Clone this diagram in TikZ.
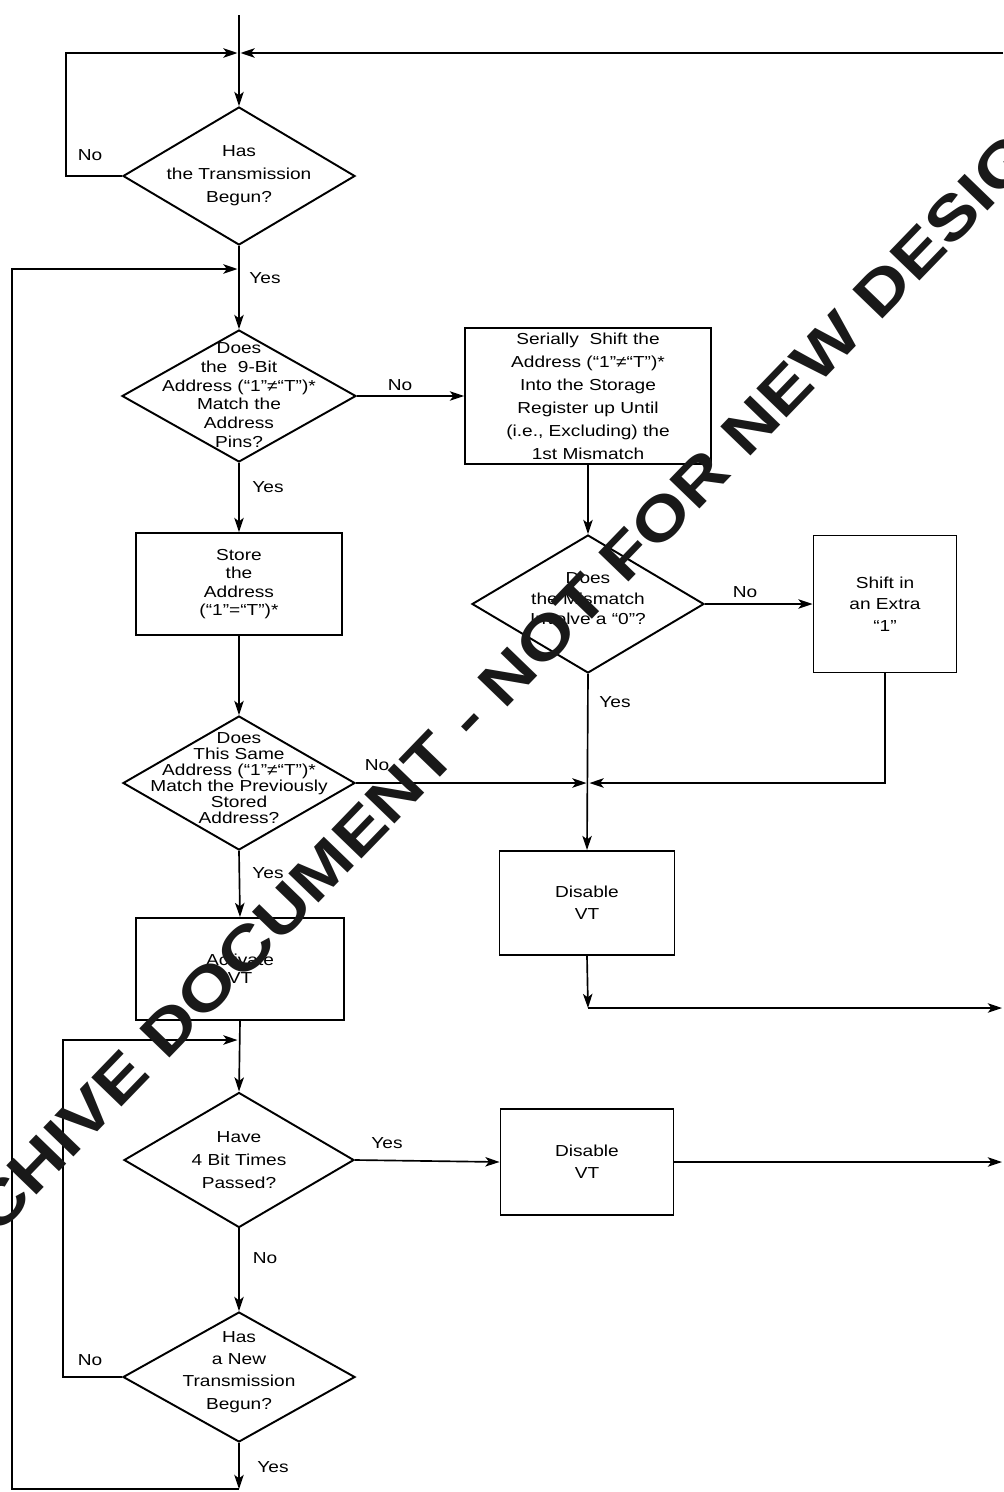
\documentclass[tikz,border=0pt]{standalone}
\usepackage{fontspec}
\setmainfont{Liberation Sans}[FakeStretch=1.2]
\usetikzlibrary{shapes.geometric,arrows.meta}

\tikzset{decision/.style 2 args={diamond,draw,line width=1.4pt,inner sep=0pt,minimum width=#1*0.254mm,minimum height=#2*0.254mm}}
\tikzset{process/.style 2 args={rectangle,draw,line width=1.4pt,inner sep=1pt,align=center,minimum width=#1*0.254mm,minimum height=#2*0.254mm}}
\tikzset{dtext/.style={align=center,inner sep=0pt}}
\tikzset{lbl/.style={inner sep=0pt}}
\tikzset{flow/.style={line width=1.2pt,-{Stealth[length=3.6mm,width=2.4mm,inset=0.9mm]}}}
\tikzset{wmark/.style={rotate=46,inner sep=0pt,text=black!90,font=\bfseries\fontsize{44}{50}\selectfont}}
\newcommand{\fs}[1]{\fontsize{11.5}{#1}\selectfont}

\begin{document}
\begin{tikzpicture}[x=0.254mm,y=-0.254mm,font=\fs{16.6}]
  \useasboundingbox (0,0) rectangle (1003,1492);
  % main column
  \node [decision={232}{138}] (d1) at (239,176) {};
  \node [dtext] (d1t) at (d1) {Has\\the Transmission\\Begun?};
  \node [decision={234}{132}] (d2) at (239,396) {};
  \node [dtext,font=\fs{13.5}] (d2t) at (239,395) {Does\\the\ \ 9-Bit\\Address (“1”≠“T”)*\\Match the\\Address\\Pins?};
  \node [process={206}{102},font=\fs{13.2}] (st) at (239,584) {Store\\the\\Address\\(“1”=“T”)*};
  \node [decision={232}{134}] (d4) at (239,783) {};
  \node [dtext,font=\fs{11.5}] (d4t) at (239,778) {Does\\This Same\\Address (“1”≠“T”)*\\Match the Previously\\Stored\\Address?};
  \node [process={208}{102},font=\fs{13}] (act) at (240,969) {Activate\\VT};
  \node [decision={230}{135}] (d5) at (239,1160) {};
  \node [dtext] (d5t) at (d5) {Have\\4 Bit Times\\Passed?};
  \node [decision={232}{130}] (d6) at (239,1377) {};
  \node [dtext,font=\fs{16}] (d6t) at (239,1372) {Has\\a New\\Transmission\\Begun?};
  % second column
  \node [process={246}{136}] (b1) at (588,396) {Serially\ \ Shift the\\Address (“1”≠“T”)*\\Into the Storage\\Register up Until\\(i.e., Excluding) the\\1st Mismatch};
  \node [decision={232}{138}] (d3) at (588,604) {};
  \node [dtext,font=\fs{14.8}] (d3t) at (588,599) {Does\\the Mismatch\\Involve a “0”?};
  \node [process={175}{104},font=\fs{15.8}] (b3) at (587,903) {Disable\\VT};
  \node [process={173}{106},font=\fs{15.8}] (b4) at (587,1162) {Disable\\VT};
  % third column
  \node [process={143}{137},font=\fs{15.4}] (b2) at (885,604) {Shift in\\an Extra\\“1”};

  % junctions and ends
  \coordinate (start) at (239,15);
  \coordinate (jtl) at (237.5,53);
  \coordinate (jtr) at (240.5,53);
  \coordinate (rt) at (1003,53);
  \coordinate (n1) at (66,53);
  \coordinate (jb) at (237.5,269);
  \coordinate (yb) at (239,1489);
  \coordinate (lb) at (12,1489);
  \coordinate (jml) at (586.5,783);
  \coordinate (jmr) at (589.5,783);
  \coordinate (c3) at (588,1008);
  \coordinate (r3) at (1002,1008);
  \coordinate (r4) at (1002,1162);
  \coordinate (n6) at (63,1040);
  \coordinate (j6) at (237.5,1040);

  \draw [flow] (start) -- (d1.north);
  \draw [flow] (rt) -- (jtr);
  \draw [flow] (d1.west) -| (n1) -- (jtl);
  \draw [flow] (d1.south) -- (d2.north);
  \draw [flow] (d6.south) -- (yb);
  \draw [flow] (yb) -- (lb) |- (jb);
  \draw [flow] (d2.east) -- (b1.west);
  \draw [flow] (d2.south) -- (st.north);
  \draw [flow] (b1.south) -- (d3.north);
  \draw [flow] (d3.east) -- (b2.west);
  \draw [flow] (b2.south) |- (jmr);
  \draw [flow] (d4.east) -- (jml);
  \draw [flow] (d3.south) -- (b3.north);
  \draw [flow] (st.south) -- (d4.north);
  \draw [flow] (d4.south) -- (act.north);
  \draw [flow] (b3.south) -- (c3);
  \draw [flow] (c3) -- (r3);
  \draw [flow] (act.south) -- (d5.north);
  \draw [flow] (d5.east) -- (b4.west);
  \draw [flow] (b4.east) -- (r4);
  \draw [flow] (d5.south) -- (d6.north);
  \draw [flow] (d6.west) -| (n6) -- (j6);

  % branch labels
  \node [lbl] (no1) at (90,155) {No};
  \node [lbl] (yes1) at (265,278) {Yes};
  \node [lbl] (no2) at (400,385) {No};
  \node [lbl] (yes2) at (268,487) {Yes};
  \node [lbl] (no3) at (745,592) {No};
  \node [lbl] (yes3) at (615,702) {Yes};
  \node [lbl] (no4) at (377,765) {No};
  \node [lbl] (yes4) at (268,873) {Yes};
  \node [lbl] (yes5) at (387,1143) {Yes};
  \node [lbl] (no5) at (265,1258) {No};
  \node [lbl] (no6) at (90,1360) {No};
  \node [lbl] (yes6) at (273,1467) {Yes};

  \node [wmark] (wm) at (484,702) {ARCHIVE DOCUMENT - NOT FOR NEW DESIGN};
\end{tikzpicture}
\end{document}
